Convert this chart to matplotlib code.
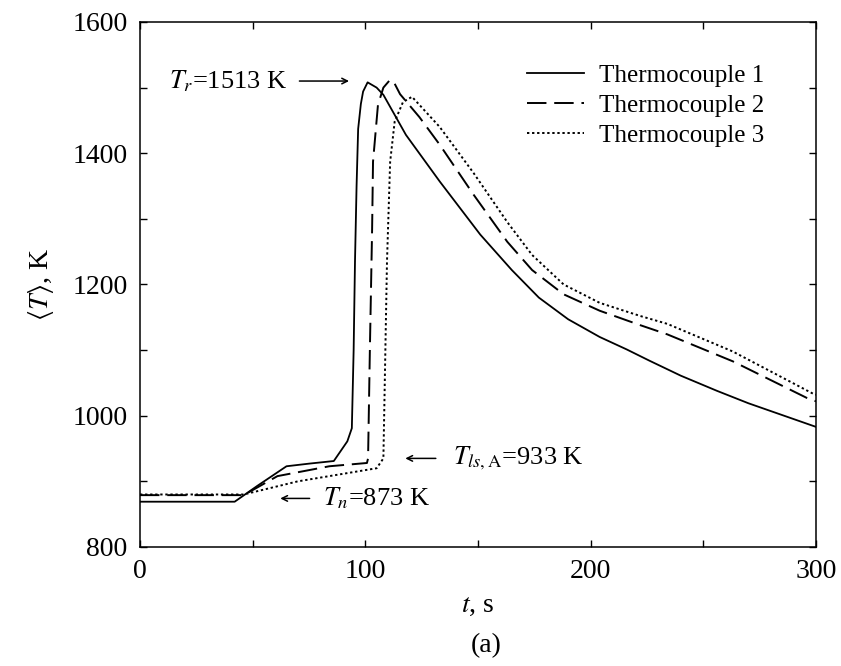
import numpy as np
import matplotlib
matplotlib.use("Agg")
import matplotlib.pyplot as plt

plt.rcParams['font.family'] = ['Liberation Serif', 'DejaVu Serif']
plt.rcParams['mathtext.fontset'] = 'stix'

# thermocouple 1 (solid)
t1 = [0, 42, 52, 65, 75, 86, 89, 92, 94, 94.8, 95.4, 96.1, 96.8, 98, 99, 101, 105, 108,
      118, 133, 151, 165, 177, 190, 204, 216, 226, 240, 256, 270, 285, 300]
T1 = [869, 869, 893, 923, 927, 931, 946, 961, 981, 1100, 1235, 1350, 1437, 1475, 1494, 1508, 1500, 1489,
      1428, 1357, 1276, 1222, 1180, 1147, 1120, 1101, 1084, 1061, 1038, 1019, 1001, 983]

# thermocouple 2 (dashed)
t2 = [0, 46, 61, 84, 100.7, 101.2, 102, 103, 103.4, 105.6, 108, 111, 113, 115.4, 124, 133,
      148, 163, 174, 188, 204, 222, 234, 263, 296, 300]
T2 = [879, 879, 908, 923, 928, 935, 1100, 1285, 1387, 1474, 1500, 1512, 1506, 1490, 1455, 1413,
      1337, 1265, 1222, 1185, 1160, 1138, 1124, 1083, 1027, 1022]

# thermocouple 3 (dotted)
t3 = [0, 46, 70, 105, 108, 109.6, 111, 113, 116.7, 120.7, 133, 148, 163, 174, 188, 204, 222,
      234, 263, 299, 300]
T3 = [880, 880, 900, 920, 935, 1235, 1387, 1448, 1478, 1486, 1440, 1370, 1295, 1245, 1200, 1172, 1152,
      1140, 1098, 1033, 1032]

labels = ["Thermocouple 1", "Thermocouple 2", "Thermocouple 3"]

fig = plt.figure(figsize=(8.41, 6.66), dpi=100)
ax = fig.add_axes([0.1665, 0.1787, 0.8038, 0.7883])

ax.plot(t1, T1, color='black', lw=1.3, label=labels[0])
ax.plot(t2, T2, color='black', lw=1.4, dashes=(10, 4), label=labels[1])
ax.plot(t3, T3, color='black', lw=1.4, dashes=(1.2, 1.4), label=labels[2])

ax.set_xlim(0, 300)
ax.set_ylim(800, 1600)
ax.set_xticks([0, 100, 200, 300])
ax.set_yticks([800, 1000, 1200, 1400, 1600])
ax.set_xticks(np.arange(0, 301, 50), minor=True)
ax.set_yticks(np.arange(800, 1601, 100), minor=True)
ax.tick_params(which='both', direction='in', top=True, right=True, length=5, width=1)
ax.tick_params(which='major', labelsize=20, pad=9)
for s in ax.spines.values():
    s.set_linewidth(1.1)

ax.set_xlabel(r'$t$, s', fontsize=20, labelpad=6)
ax.set_ylabel(r'$\langle T\rangle$, K', fontsize=20, labelpad=12)
fig.text(0.578, 0.031, '(a)', fontsize=20, ha='center', va='center')

ax.legend(loc='upper right', frameon=False, fontsize=18, handlelength=2.3,
          handletextpad=0.6, labelspacing=0.3, bbox_to_anchor=(0.957, 0.962))

arw = dict(arrowstyle='->', color='black', lw=1.1)
ax.annotate('', xy=(94, 1510), xytext=(69.5, 1510), arrowprops=arw)
ax.text(13, 1510, r'$T_r$=1513 K', fontsize=19, va='center')
ax.annotate('', xy=(116.5, 935), xytext=(132.5, 935), arrowprops=arw)
ax.text(139, 935, r'$T_{ls,\mathrm{A}}$=933 K', fontsize=19, va='center')
ax.annotate('', xy=(61, 874), xytext=(76.5, 874), arrowprops=arw)
ax.text(81, 874, r'$T_n$=873 K', fontsize=19, va='center')

fig.savefig('out.png', dpi=100)
